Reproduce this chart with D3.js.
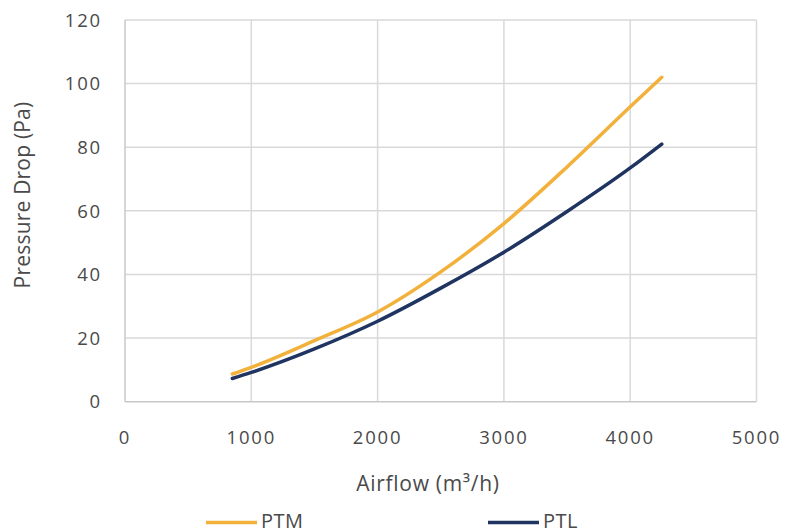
<!DOCTYPE html>
<html><head><meta charset="utf-8">
<script src="https://cdn.jsdelivr.net/npm/d3@7"></script>
<style>
body{margin:0;background:#fff;}
text{font-family:"Open Sans","Noto Sans",sans-serif;fill:#4a4a4a;}
</style></head>
<body><svg id="c" width="796" height="529"></svg>
<script>
const airflow = [850, 1000, 1500, 2000, 2500, 3000, 3500, 4000, 4250];
const ptm = [8.7, 10.8, 19.2, 28.2, 40.8, 56.0, 73.8, 92.7, 102.0];
const ptl = [7.3, 9.2, 16.6, 25.3, 35.7, 47.0, 59.8, 73.5, 81.0];
const seriesNames = ["PTM", "PTL"];
const seriesColors = ["#F2B13B", "#1F3461"];
const xTicks = [0, 1000, 2000, 3000, 4000, 5000];
const yTicks = [0, 20, 40, 60, 80, 100, 120];

const svg = d3.select("#c");
const x = d3.scaleLinear().domain([0, 5000]).range([125, 756.5]);
const y = d3.scaleLinear().domain([0, 120]).range([401.7, 20]);

// gridlines
svg.append("g").selectAll("line").data(yTicks.filter(d=>d>0)).join("line")
  .attr("x1", x(0)).attr("x2", x(5000)).attr("y1", d=>y(d)).attr("y2", d=>y(d))
  .attr("stroke", "#d9d9d9").attr("stroke-width", 1.5);
svg.append("g").selectAll("line").data(xTicks.filter(d=>d>0)).join("line")
  .attr("x1", d=>x(d)).attr("x2", d=>x(d)).attr("y1", y(0)).attr("y2", y(120))
  .attr("stroke", "#d9d9d9").attr("stroke-width", 1.5);
// axis lines
svg.append("line").attr("x1", x(0)).attr("x2", x(5000)).attr("y1", y(0)).attr("y2", y(0))
  .attr("stroke", "#c8c8c8").attr("stroke-width", 1.5);
svg.append("line").attr("x1", x(0)).attr("x2", x(0)).attr("y1", y(0)).attr("y2", y(120))
  .attr("stroke", "#c8c8c8").attr("stroke-width", 1.5);

// tick labels
svg.append("g").selectAll("text").data(xTicks).join("text")
  .attr("x", d=>x(d)).attr("y", 444).attr("text-anchor", "middle")
  .style("font-size", "18.5px").style("letter-spacing", "1.8px")
  .text(d=>d);
svg.append("g").selectAll("text").data(yTicks).join("text")
  .attr("x", 102).attr("y", d=>y(d)).attr("dy", "0.36em").attr("text-anchor", "end")
  .style("font-size", "18.5px").style("letter-spacing", "1.8px")
  .text(d=>d);

// axis titles
svg.append("text").attr("x", 428).attr("y", 491).attr("text-anchor", "middle")
  .style("font-size", "21px").style("letter-spacing", "0.7px").text("Airflow (m³/h)");
svg.append("text").attr("transform", "translate(30,195) rotate(-90)").attr("text-anchor", "middle")
  .style("font-size", "21px").style("letter-spacing", "0.2px").text("Pressure Drop (Pa)");

// lines
const line = d3.line().x(d=>x(d[0])).y(d=>y(d[1])).curve(d3.curveMonotoneX);
[ptm, ptl].forEach((vals, i) => {
  svg.append("path").datum(airflow.map((a, j) => [a, vals[j]]))
    .attr("d", line).attr("fill", "none").attr("stroke", seriesColors[i])
    .attr("stroke-width", 3.5).attr("stroke-linecap", "round");
});

// legend
const legendX = [206, 488];
seriesNames.forEach((n, i) => {
  svg.append("line").attr("x1", legendX[i]).attr("x2", legendX[i] + 51)
    .attr("y1", 522.5).attr("y2", 522.5).attr("stroke", seriesColors[i]).attr("stroke-width", 3.5);
  svg.append("text").attr("x", legendX[i] + 55).attr("y", 528)
    .style("font-size", "20px").style("letter-spacing", "0.5px").text(n);
});
</script></body></html>
